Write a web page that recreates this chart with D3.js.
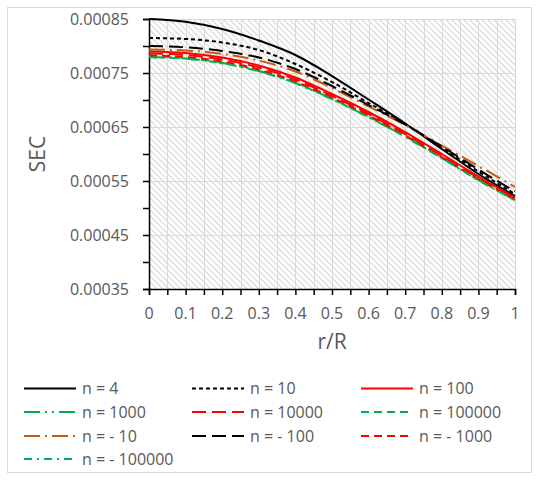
<!DOCTYPE html>
<html>
<head>
<meta charset="utf-8">
<script src="https://cdn.jsdelivr.net/npm/d3@7"></script>
<style>
  html, body { margin: 0; padding: 0; background: #fff; }
  svg { display: block; font-family: "Open Sans", sans-serif; }
</style>
</head>
<body>
<svg id="chart" width="540" height="480"></svg>
<script>
// ---- data ----
const rR = [0, 0.1, 0.2, 0.3, 0.4, 0.5, 0.6, 0.7, 0.8, 0.9, 1.0];

const sec_n4       = [0.0008500, 0.0008450, 0.0008315, 0.0008102, 0.0007833, 0.0007444, 0.0007009, 0.0006565, 0.0006093, 0.0005630, 0.0005222];
const sec_n10      = [0.0008148, 0.0008130, 0.0008065, 0.0007926, 0.0007667, 0.0007333, 0.0006944, 0.0006556, 0.0006120, 0.0005676, 0.0005259];
const sec_n100     = [0.0007898, 0.0007870, 0.0007787, 0.0007639, 0.0007417, 0.0007111, 0.0006778, 0.0006407, 0.0006000, 0.0005583, 0.0005194];
const sec_n1000    = [0.0007796, 0.0007769, 0.0007685, 0.0007537, 0.0007315, 0.0007019, 0.0006685, 0.0006324, 0.0005926, 0.0005519, 0.0005148];
const sec_n10000   = [0.0007861, 0.0007833, 0.0007750, 0.0007602, 0.0007380, 0.0007074, 0.0006741, 0.0006370, 0.0005963, 0.0005556, 0.0005176];
const sec_n100000  = [0.0007805, 0.0007778, 0.0007694, 0.0007546, 0.0007324, 0.0007028, 0.0006694, 0.0006333, 0.0005935, 0.0005528, 0.0005157];
const sec_nm10     = [0.0007935, 0.0007917, 0.0007852, 0.0007731, 0.0007528, 0.0007222, 0.0006880, 0.0006537, 0.0006157, 0.0005778, 0.0005389];
const sec_nm100    = [0.0008000, 0.0007976, 0.0007907, 0.0007787, 0.0007574, 0.0007259, 0.0006907, 0.0006546, 0.0006139, 0.0005713, 0.0005306];
const sec_nm1000   = [0.0007824, 0.0007796, 0.0007713, 0.0007565, 0.0007343, 0.0007046, 0.0006713, 0.0006343, 0.0005944, 0.0005537, 0.0005167];
const sec_nm100000 = [0.0007792, 0.0007765, 0.0007681, 0.0007533, 0.0007311, 0.0007015, 0.0006681, 0.0006320, 0.0005922, 0.0005515, 0.0005144];

const seriesNames  = ["n = 4", "n = 10", "n = 100", "n = 1000", "n = 10000", "n = 100000", "n = - 10", "n = - 100", "n = - 1000", "n = - 100000"];
const seriesValues = [sec_n4, sec_n10, sec_n100, sec_n1000, sec_n10000, sec_n100000, sec_nm10, sec_nm100, sec_nm1000, sec_nm100000];

const xTickValues = [0, 0.1, 0.2, 0.3, 0.4, 0.5, 0.6, 0.7, 0.8, 0.9, 1];
const yTickValues = [0.00035, 0.00045, 0.00055, 0.00065, 0.00075, 0.00085];
const yTickLabels = ["0.00035", "0.00045", "0.00055", "0.00065", "0.00075", "0.00085"];
const xTitle = "r/R";
const yTitle = "SEC";

// ---- styles ----
const styles = [
  { color: "#000000", dash: null },
  { color: "#000000", dash: "4,3" },
  { color: "#FF0000", dash: null },
  { color: "#00B050", dash: "16,5,2,5,2,5" },
  { color: "#FF0000", dash: "14,6" },
  { color: "#00B050", dash: "8,5" },
  { color: "#C55A11", dash: "16,5,2,5" },
  { color: "#000000", dash: "14,6" },
  { color: "#FF0000", dash: "8,5" },
  { color: "#00B050", dash: "8,5,2,5" }
];

const svg = d3.select("#chart");
const plot = { left: 149, right: 515, top: 19, bottom: 289 };

// outer chart border
svg.append("rect").attr("x", 7.5).attr("y", 7.5).attr("width", 524).attr("height", 465)
  .attr("fill", "#fff").attr("stroke", "#d9d9d9").attr("stroke-width", 1);

const x = d3.scaleLinear().domain([0, 1]).range([plot.left, plot.right]);
const y = d3.scaleLinear().domain([0.00035, 0.00085]).range([plot.bottom, plot.top]);

// hatch pattern
const defs = svg.append("defs");
const pat = defs.append("pattern").attr("id", "hatch").attr("patternUnits", "userSpaceOnUse")
  .attr("width", 6).attr("height", 6);
pat.append("rect").attr("width", 6).attr("height", 6).attr("fill", "#ffffff");
pat.append("path").attr("d", "M-1,-1 L7,7 M-1,5 L1,7 M5,-1 L7,1")
  .attr("stroke", "#e0e0e0").attr("stroke-width", 1.5);

svg.append("rect").attr("x", plot.left).attr("y", plot.top)
  .attr("width", plot.right - plot.left).attr("height", plot.bottom - plot.top)
  .attr("fill", "url(#hatch)");

// gridlines
const vGrid = d3.range(1, 21).map(i => i * 0.05);
svg.append("g").selectAll("line").data(vGrid).join("line")
  .attr("x1", d => Math.round(x(d)) + 0.5).attr("x2", d => Math.round(x(d)) + 0.5)
  .attr("y1", plot.top).attr("y2", plot.bottom)
  .attr("stroke", "#d9d9d9").attr("stroke-width", 1);
svg.append("g").selectAll("line").data(yTickValues.slice(1)).join("line")
  .attr("x1", plot.left).attr("x2", plot.right)
  .attr("y1", d => Math.round(y(d)) + 0.5).attr("y2", d => Math.round(y(d)) + 0.5)
  .attr("stroke", "#d9d9d9").attr("stroke-width", 1);

// axes
const xAxis = d3.axisBottom(x).tickValues(d3.range(0, 21).map(i => i * 0.05)).tickSize(6).tickFormat("");
const gx = svg.append("g").attr("transform", `translate(0,${plot.bottom})`).call(xAxis);
gx.select(".domain").attr("stroke", "#000").attr("stroke-width", 1.5);
gx.selectAll(".tick line").attr("stroke", "#000").attr("stroke-width", 1.5);

svg.append("g").selectAll("text").data(xTickValues).join("text")
  .attr("x", d => x(d)).attr("y", 319)
  .attr("text-anchor", "middle").attr("font-size", 16).attr("fill", "#595959")
  .text(d => d3.format("")(d));

const yAxis = d3.axisLeft(y).tickValues(d3.range(0, 11).map(i => 0.00035 + i * 0.00005)).tickSize(6).tickFormat("");
const gy = svg.append("g").attr("transform", `translate(${plot.left},0)`).call(yAxis);
gy.select(".domain").attr("stroke", "#000").attr("stroke-width", 1.5);
gy.selectAll(".tick line").attr("stroke", "#000").attr("stroke-width", 1.5);

svg.append("g").selectAll("text").data(yTickValues).join("text")
  .attr("x", 129).attr("y", d => y(d) + 6)
  .attr("text-anchor", "end").attr("font-size", 16).attr("fill", "#595959")
  .text((d, i) => yTickLabels[i]);

// axis titles
svg.append("text").attr("transform", `translate(45,${(plot.top + plot.bottom) / 2}) rotate(-90)`)
  .attr("text-anchor", "middle").attr("font-size", 21).attr("fill", "#595959").text(yTitle);
svg.append("text").attr("x", (plot.left + plot.right) / 2).attr("y", 349)
  .attr("text-anchor", "middle").attr("font-size", 21).attr("fill", "#595959").text(xTitle);

// lines
const line = d3.line().x((d, i) => x(rR[i])).y(d => y(d)).curve(d3.curveMonotoneX);
svg.append("g").selectAll("path").data(seriesValues).join("path")
  .attr("d", d => line(d))
  .attr("fill", "none")
  .attr("stroke", (d, i) => styles[i].color)
  .attr("stroke-width", 2)
  .attr("stroke-dasharray", (d, i) => styles[i].dash);

// legend
const colX = [24, 192, 361];
const rowY = [388.5, 412, 436, 459];
const leg = svg.append("g").selectAll("g").data(seriesNames).join("g")
  .attr("transform", (d, i) => `translate(${colX[i % 3]},${rowY[Math.floor(i / 3)]})`);
leg.append("line").attr("x1", 0).attr("x2", 52).attr("y1", 0).attr("y2", 0)
  .attr("stroke", (d, i) => styles[i].color).attr("stroke-width", 2)
  .attr("stroke-dasharray", (d, i) => styles[i].dash);
leg.append("text").attr("x", 58).attr("y", 5.5).attr("font-size", 16).attr("fill", "#595959")
  .text(d => d);
</script>
</body>
</html>
